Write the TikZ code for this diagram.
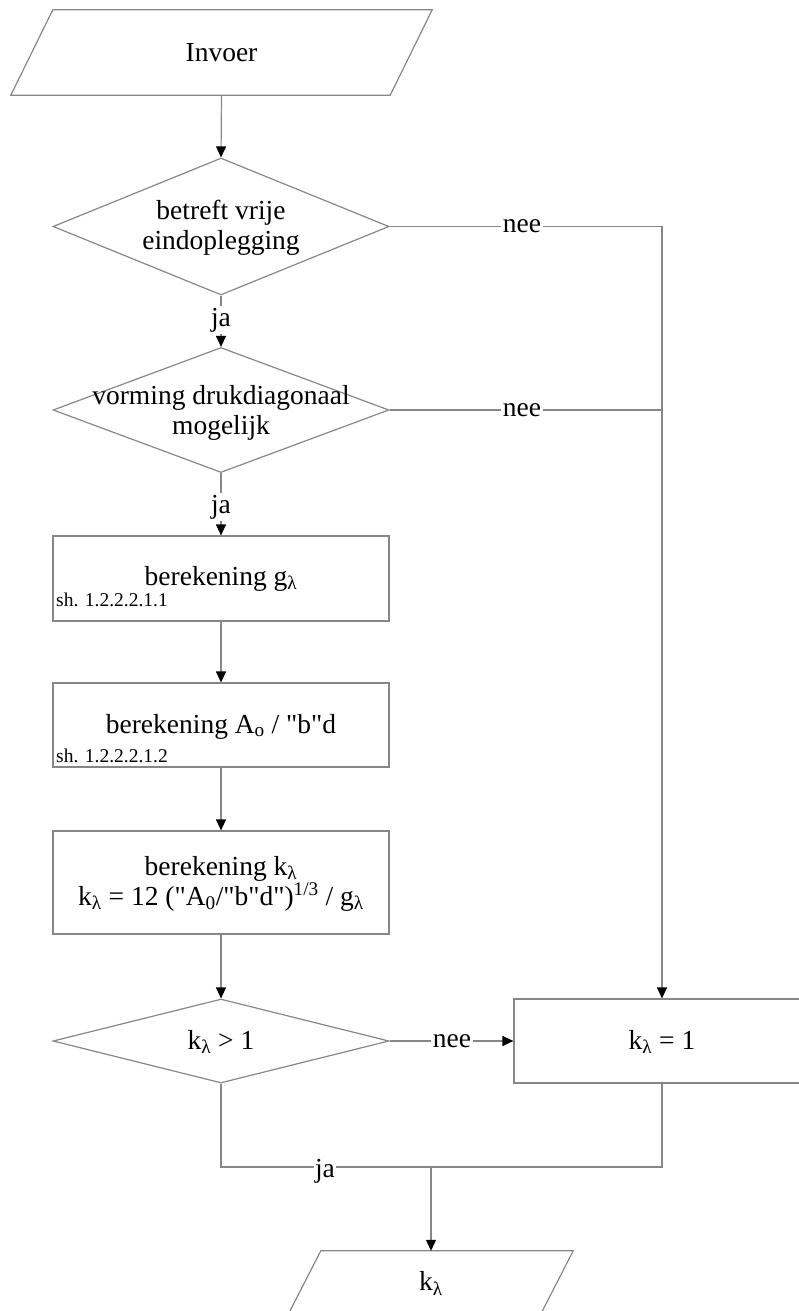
\documentclass[tikz,border=0pt]{standalone}
\usepackage{fontspec}
\setmainfont{Liberation Serif}[Ligatures=TeXOff]
\usetikzlibrary{arrows.meta,shapes.geometric}
\definecolor{ln}{RGB}{135,135,135}
\newcommand{\lsub}[1]{\textsubscript{#1}}
\newcommand{\lsup}[1]{\textsuperscript{#1}}
\begin{document}
\begin{tikzpicture}[x=1pt,y=-1pt,
  line/.style={draw=ln, line width=1.2pt},
  arr/.style={line, -{Triangle[length=11pt,width=10pt,fill=black,color=black]}},
  main/.style={font=\fontsize{27.5}{31}\selectfont, inner sep=0pt},
  small/.style={font=\fontsize{19.5}{22}\selectfont, inner sep=0pt},
  lbl/.style={main, fill=white, inner sep=1.5pt},
  dia/.style={shape=diamond, draw=ln, line width=1.2pt, inner sep=0pt, minimum width=336pt},
  boxx/.style={draw=ln, line width=1.2pt, inner sep=0pt, minimum width=336pt},
  io/.style={inner sep=0pt},
]
\useasboundingbox (0,0) rectangle (798,1311);

% input parallelogram
\node[io, minimum width=379pt, minimum height=85pt] (inv) at (221.5,52.5) {};
\draw[line] ([xshift=21pt]inv.north west) -- ([xshift=21pt]inv.north east)
  -- ([xshift=-21pt]inv.south east) -- ([xshift=-21pt]inv.south west) -- cycle;
\node[main] (tinv) at (221.5,52.5) {Invoer};

% decisions
\node[dia, minimum height=137pt] (d1) at (221,226.5) {};
\node[main, anchor=base] (t1a) at (221,219) {betreft vrije};
\node[main, anchor=base] (t1b) at (221,249) {eindoplegging};

\node[dia, minimum height=125pt] (d2) at (221,410) {};
\node[main, anchor=base] (t2a) at (221,404) {vorming drukdiagonaal};
\node[main, anchor=base] (t2b) at (221,434) {mogelijk};

% process boxes
\node[boxx, minimum height=85pt] (b1) at (221,578.5) {};
\node[main, anchor=base] (t3) at (221,585) {berekening g\lsub{λ}};
\node[small, anchor=base west] (s3) at (56,606) {sh. 1.2.2.2.1.1};

\node[boxx, minimum height=84pt] (b2) at (221,725) {};
\node[main, anchor=base] (t4) at (221,733) {berekening A\lsub{o} / "b"d};
\node[small, anchor=base west] (s4) at (56,762) {sh. 1.2.2.2.1.2};

\node[boxx, minimum height=103pt] (b3) at (221,882.5) {};
\node[main, anchor=base] (t5a) at (221,875) {berekening k\lsub{λ}};
\node[main, anchor=base] (t5b) at (221,905) {k\lsub{λ} = 12 ("A\lsub{0}/"b"d")\lsup{1/3} / g\lsub{λ}};

\node[dia, minimum height=84pt] (d3) at (221,1041) {};
\node[main, anchor=base] (t6) at (221,1049) {k\lsub{λ} > 1};

\node[boxx, minimum width=296pt, minimum height=84pt] (k1) at (662,1041) {};
\node[main, anchor=base] (t7) at (662,1049) {k\lsub{λ} = 1};

% output parallelogram
\node[io, minimum width=252pt, minimum height=62pt] (outp) at (431,1282) {};
\draw[line] ([xshift=16pt]outp.north west) -- ([xshift=16pt]outp.north east)
  -- ([xshift=-16pt]outp.south east) -- ([xshift=-16pt]outp.south west) -- cycle;
\node[main, anchor=base] (tout) at (431,1290) {k\lsub{λ}};

% coordinates
\coordinate (c1) at (662,226.5);
\coordinate (c2) at (662,410);
\coordinate (c3) at (221,1167);
\coordinate (c4) at (662,1167);
\coordinate (c5) at (431,1167);

% connectors
\draw[arr] (inv.south) -- (d1.north);
\draw[arr] (d1.south) -- (d2.north);
\draw[arr] (d2.south) -- (b1.north);
\draw[arr] (b1.south) -- (b2.north);
\draw[arr] (b2.south) -- (b3.north);
\draw[arr] (b3.south) -- (d3.north);
\draw[arr] (d1.east) -- (c1) -- (k1.north);
\draw[line] (d2.east) -- (c2);
\draw[arr] (d3.east) -- (k1.west);
\draw[line] (d3.south) -- (c3) -- (c4) -- (k1.south);
\draw[arr] (c5) -- (outp.north);

% labels
\node[lbl] (l1) at (522,226.5) {nee};
\node[lbl] (l2) at (522,410) {nee};
\node[lbl] (l3) at (452,1041) {nee};
\node[lbl] (l4) at (221,320) {ja};
\node[lbl] (l5) at (221,507) {ja};
\node[lbl] (l6) at (325,1171) {ja};
\end{tikzpicture}
\end{document}
